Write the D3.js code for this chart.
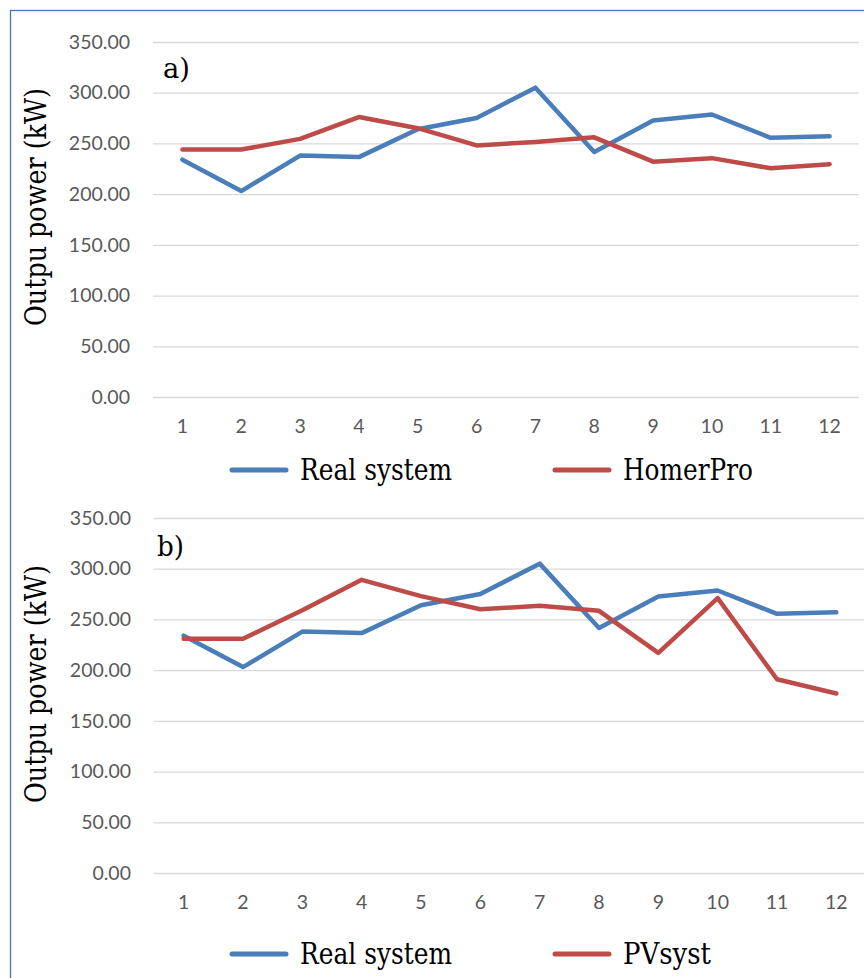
<!DOCTYPE html>
<html>
<head>
<meta charset="utf-8">
<script src="https://cdn.jsdelivr.net/npm/d3@7"></script>
<style>
  body { margin: 0; background: #fff; }
  .axis text { font-family: Lato, "Open Sans", sans-serif; font-size: 19.5px; fill: #595959; }
  .grid line { stroke: #d9d9d9; stroke-width: 1.3; }
</style>
</head>
<body>
<svg id="fig" width="864" height="978"></svg>
<script>
// months 1..12
var months = [1, 2, 3, 4, 5, 6, 7, 8, 9, 10, 11, 12];
var yTicks = [0, 50, 100, 150, 200, 250, 300, 350];

var realSystem = [234, 203, 238, 236.5, 264, 275, 305, 241.5, 272.5, 278.5, 255.5, 257];
var homerPro   = [244, 244, 254.5, 276, 265, 248, 251.5, 256, 232, 235.5, 225.5, 229.5];
var pvSyst     = [231, 231, 259, 289, 273, 260, 263.5, 258.5, 217, 271, 191, 177];

// only DejaVu Serif resolves as a serif face here, squeeze it to Times widths
var serif = "DejaVu Serif";
var textWidths = {"Outpu power (kW)": 238, "Real system": 152, "HomerPro": 130, "PVsyst": 88};

var svg = d3.select("#fig");

// outer frame
svg.append("rect")
    .attr("x", 10.5)
    .attr("y", 10.5)
    .attr("width", 900)
    .attr("height", 1000)
    .attr("fill", "none")
    .attr("stroke", "#4a72c0")
    .attr("stroke-width", 1.3);

function draw_panel(opts){

  var x = d3.scaleBand()
      .domain(months)
      .range([opts.left, opts.right])
      .padding(0);

  var y = d3.scaleLinear()
      .domain([0, 350])
      .range([opts.bottom, opts.top]);

  var g = svg.append("g").attr("class", "panel");

  // horizontal gridlines + y labels
  g.append("g")
      .attr("class", "axis grid")
      .attr("transform", "translate(" + opts.left + ",0)")
      .call(d3.axisLeft(y).tickValues(yTicks).tickFormat(d3.format(".2f"))
        .tickSizeInner(-(opts.right - opts.left)).tickSizeOuter(0).tickPadding(23))
      .call(function(a) { a.select(".domain").remove(); });

  // x labels
  g.append("g")
      .attr("class", "axis")
      .attr("transform", "translate(0," + opts.bottom + ")")
      .call(d3.axisBottom(x).tickSize(0).tickPadding(22))
      .call(function(a) { a.select(".domain").remove(); });

  // y title
  g.append("text")
      .attr("transform", "translate(46," + opts.titleY + ") rotate(-90)")
      .attr("text-anchor", "middle")
      .attr("font-family", serif)
      .attr("font-size", 29)
      .attr("textLength", textWidths["Outpu power (kW)"])
      .attr("lengthAdjust", "spacingAndGlyphs")
      .attr("fill", "#000")
      .text("Outpu power (kW)");

  // panel tag
  g.append("text")
      .attr("x", opts.tagX)
      .attr("y", opts.tagY)
      .attr("font-family", serif)
      .attr("font-size", 27)
      .attr("textLength", 27)
      .attr("lengthAdjust", "spacingAndGlyphs")
      .attr("fill", "#000")
      .text(opts.tag);

  var line = d3.line()
      .x(function(d, i) { return x(months[i]) + x.bandwidth() / 2; })
      .y(function(d) { return y(d); });

  opts.series.forEach(function(s) {
    g.append("path")
        .datum(s.values)
        .attr("fill", "none")
        .attr("stroke", s.color)
        .attr("stroke-width", 4.5)
        .attr("stroke-linejoin", "round")
        .attr("stroke-linecap", "round")
        .attr("d", line);
  });

  // legend
  var legend = g.selectAll(".legend")
    .data(opts.series)
    .enter().append("g")
      .attr("class", "legend")
      .attr("transform", function(d, i) { return "translate(" + (232 + i * 323) + "," + opts.legendY + ")"; });

  legend.append("line")
      .attr("x1", 0)
      .attr("x2", 54)
      .attr("stroke", function(d) { return d.color; })
      .attr("stroke-width", 5)
      .attr("stroke-linecap", "round");

  legend.append("text")
      .attr("x", 68)
      .attr("dy", "0.34em")
      .attr("font-family", serif)
      .attr("font-size", 29)
      .attr("textLength", function(d) { return textWidths[d.name]; })
      .attr("lengthAdjust", "spacingAndGlyphs")
      .attr("fill", "#000")
      .text(function(d) { return d.name; });
}

draw_panel({
  left: 153, right: 859, top: 42, bottom: 397,
  titleY: 207, tag: "a)", tagX: 163, tagY: 78, legendY: 470,
  series: [
    {name: "Real system", values: realSystem, color: "#4a7ebb"},
    {name: "HomerPro", values: homerPro, color: "#be4b48"}
  ]
});

draw_panel({
  left: 154, right: 866, top: 518, bottom: 873,
  titleY: 684, tag: "b)", tagX: 157, tagY: 556, legendY: 954,
  series: [
    {name: "Real system", values: realSystem, color: "#4a7ebb"},
    {name: "PVsyst", values: pvSyst, color: "#be4b48"}
  ]
});
</script>
</body>
</html>
